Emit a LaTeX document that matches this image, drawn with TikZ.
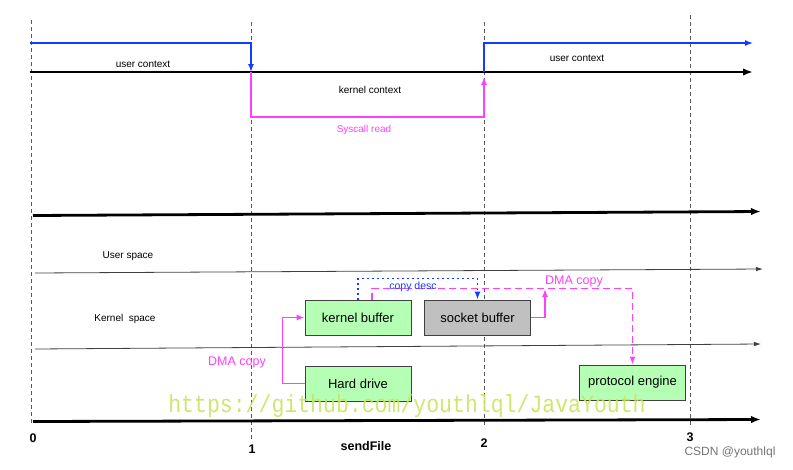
\documentclass[tikz,border=0pt]{standalone}
\usepackage{fontspec}
\setmainfont{Liberation Sans}
\setmonofont{Liberation Mono}
\usetikzlibrary{arrows.meta}
\definecolor{mag}{RGB}{255,64,255}
\definecolor{blu}{RGB}{20,60,255}
\definecolor{boxgreen}{RGB}{181,255,181}
\definecolor{boxgrey}{RGB}{192,192,192}
\definecolor{wm}{RGB}{200,228,95}
\begin{document}
\begin{tikzpicture}[x=1pt,y=-1pt,
  guide/.style={draw=black!65, line width=0.8pt, dash pattern=on 4pt off 3pt},
  axis/.style={line width=2.8pt, -{Latex[length=10pt,width=7.5pt]}},
  thinaxis/.style={draw=black!75, line width=0.8pt, -{Latex[length=7pt,width=4.5pt]}},
  blueflow/.style={blu, line width=1.4pt},
  magflow/.style={mag, line width=1.4pt},
  tipsmall/.style={-{Latex[length=8pt,width=6pt]}},
  box/.style={draw=black!75, line width=1pt, minimum width=106pt, minimum height=35pt, font=\fontsize{13}{15}\selectfont, inner sep=0pt},
  lbl/.style={font=\fontsize{10}{11}\selectfont, inner sep=0pt},
  num/.style={font=\bfseries\fontsize{12.5}{14}\selectfont, inner sep=0pt},
  ]
\useasboundingbox (0,0) rectangle (793,469);

% guide lines
\coordinate (g0a) at (31,20);  \coordinate (g0b) at (31,425);
\coordinate (g1a) at (251,22); \coordinate (g1b) at (251,440);
\coordinate (g2a) at (484,22); \coordinate (g2b) at (484,425);
\coordinate (g3a) at (690,15); \coordinate (g3b) at (690,425);
\draw[guide] (g0a) -- (g0b);
\draw[guide] (g1a) -- (g1b);
\draw[guide] (g2a) -- (g2b);
\draw[guide] (g3a) -- (g3b);

% top timeline
\coordinate (t0) at (30,72);
\coordinate (t1) at (753,72);
\draw[axis] (t0) -- (t1);

% blue user flow
\coordinate (u0) at (30,43);
\coordinate (u1) at (251,43);
\coordinate (k1) at (251,72);
\coordinate (k2) at (484,72);
\coordinate (u2) at (484,43);
\coordinate (u3) at (753,43);
\draw[blueflow, tipsmall] (u0) -- (u1) -- (k1);
\draw[blueflow, tipsmall] (k2) -- (u2) -- (u3);

% magenta syscall
\coordinate (s1) at (251,117);
\coordinate (s2) at (484,117);
\coordinate (s3) at (484,77);
\draw[magflow, tipsmall] (k1) -- (s1) -- (s2) -- (s3);

\node[lbl] (uc1) at (143,64) {user context};
\node[lbl] (uc2) at (577,58) {user context};
\node[lbl] (kc) at (370,90) {kernel context};
\node[lbl, text=mag] (sr) at (364,130) {Syscall read};

% lower timelines
\coordinate (a0) at (33,215.5); \coordinate (a1) at (761,211.5);
\draw[axis] (a0) -- (a1);
\coordinate (b0) at (35,273); \coordinate (b1) at (763,269);
\draw[thinaxis] (b0) -- (b1);
\coordinate (c0) at (35,349); \coordinate (c1) at (761,344);
\draw[thinaxis] (c0) -- (c1);
\coordinate (d0) at (33,421.5); \coordinate (d1) at (761,419.5);
\draw[axis] (d0) -- (d1);

\node[lbl] (us) at (128,256) {User space};
\node[lbl] (ks) at (125,319) {Kernel\ \ space};

% boxes
\node[box, fill=boxgreen] (kb) at (358,317.5) {kernel buffer};
\node[box, fill=boxgrey] (sb) at (477.5,317.5) {socket buffer};
\node[box, fill=boxgreen] (hd) at (358,383.5) {Hard drive};
\node[box, fill=boxgreen] (pe) at (632.5,382.5) {protocol engine};

% connectors
\draw[magflow, tipsmall] (hd.west) -- ++(-22,0) |- (kb.west);
\node[font=\fontsize{12.5}{14}\selectfont, text=mag, inner sep=0pt] (dma1) at (237,362) {DMA copy};

\draw[blu, line width=1.3pt, dash pattern=on 2pt off 3pt, tipsmall] (kb.north) -- ++(0,-21) -| (sb.north);
\draw[mag, line width=1.3pt, dash pattern=on 7pt off 4pt, tipsmall] ([xshift=14pt]kb.north) -- ++(0,-11) -| (pe.north);
\node[font=\fontsize{10.5}{12}\selectfont, text=blu, inner sep=0pt] (cd) at (413,287) {copy desc};

\coordinate (dmatop) at (545,289);
\draw[magflow, tipsmall] (sb.east) -| (dmatop);
\node[font=\fontsize{12.5}{14}\selectfont, text=mag, inner sep=0pt] (dma2) at (574,281) {DMA copy};

% axis labels
\node[num] (n0) at (33,438) {0};
\node[num] (n1) at (252,449) {1};
\node[num] (sf) at (366,446) {sendFile};
\node[num] (n2) at (484,443) {2};
\node[num] (n3) at (690,437) {3};

% watermark
\node[font=\ttfamily\fontsize{21.5}{24}\selectfont, text=wm, opacity=0.9, inner sep=0pt, yscale=1.15] (wmk) at (407,406) {https://github.com/youthlql/JavaYouth};
\node[font=\fontsize{12}{13}\selectfont, text=black!55, inner sep=0pt] (csdn) at (730,452) {CSDN @youthlql};
\end{tikzpicture}
\end{document}
